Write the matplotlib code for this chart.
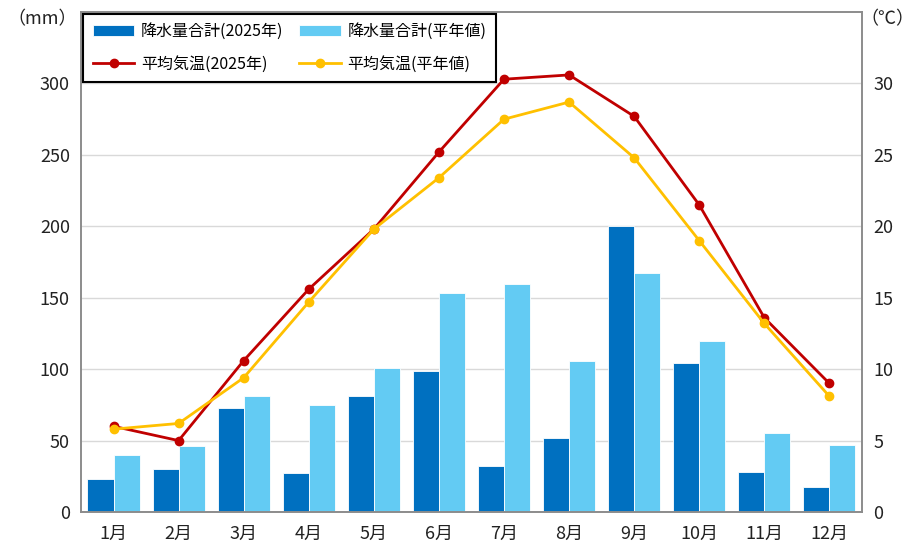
import numpy as np
import matplotlib
matplotlib.use("Agg")
import matplotlib.pyplot as plt

plt.rcParams["font.family"] = ["Noto Sans CJK JP", "DejaVu Sans"]

months = ["1月", "2月", "3月", "4月", "5月", "6月", "7月", "8月", "9月", "10月", "11月", "12月"]
rain_2025 = [23, 30, 73, 27, 81, 99, 32, 52, 200, 104, 28, 17.5]
rain_normal = [40, 46, 81, 75, 101, 153, 159.5, 106, 167.5, 120, 55, 47]
temp_2025 = [6.0, 5.0, 10.6, 15.6, 19.8, 25.2, 30.3, 30.6, 27.7, 21.5, 13.6, 9.0]
temp_normal = [5.8, 6.2, 9.4, 14.7, 19.8, 23.4, 27.5, 28.7, 24.8, 19.0, 13.2, 8.1]

c_dark = "#0070C0"
c_light = "#63CBF3"
c_red = "#C00000"
c_yellow = "#FFC000"
grid_c = "#D9D9D9"
spine_c = "#8C8C8C"
txt_c = "#222222"

fig = plt.figure(figsize=(9.15, 5.44), dpi=100)
ax = fig.add_axes([0.0885, 0.0588, 0.8535, 0.919])
ax2 = ax.twinx()

x = np.arange(len(months))
w = 0.4
b1 = ax.bar(x - w / 2, rain_2025, w, color=c_dark, edgecolor="white", linewidth=0.6,
            label="降水量合計(2025年)", zorder=2)
b2 = ax.bar(x + w / 2, rain_normal, w, color=c_light, edgecolor="white", linewidth=0.6,
            label="降水量合計(平年値)", zorder=2)

l1, = ax2.plot(x, temp_2025, color=c_red, marker="o", markersize=6, linewidth=2,
               label="平均気温(2025年)", zorder=3)
l2, = ax2.plot(x, temp_normal, color=c_yellow, marker="o", markersize=6, linewidth=2,
               label="平均気温(平年値)", zorder=3)

ax.set_xlim(-0.5, len(months) - 0.5)
ax.set_ylim(0, 350)
ax2.set_ylim(0, 35)
ax.set_yticks(np.arange(0, 301, 50))
ax2.set_yticks(np.arange(0, 31, 5))
ax.set_xticks(x)
ax.set_xticklabels(months)
ax.yaxis.grid(True, color=grid_c, linewidth=1, zorder=0)
ax.set_axisbelow(True)

for a in (ax, ax2):
    a.tick_params(length=0, labelsize=13, colors=txt_c, pad=8)
    for s in a.spines.values():
        s.set_color(spine_c)
        s.set_linewidth(1.2)
ax.tick_params(axis="x", pad=9)

fig.text(0.008, 0.965, "（mm）", fontsize=13, color=txt_c, va="center")
fig.text(0.999, 0.965, "（℃）", fontsize=13, color=txt_c, va="center", ha="right")

# row-wise order: bars on top row, lines on bottom row
handles = [b1, l1, b2, l2]
labels = [h.get_label() for h in handles]
leg = ax2.legend(handles, labels, ncol=2, loc="upper left",
                 bbox_to_anchor=(0.003, 0.997), borderaxespad=0, fontsize=11.5,
                 frameon=True, fancybox=False, borderpad=0.6, columnspacing=1.0,
                 handlelength=2.6, handletextpad=0.4, labelspacing=0.95)
leg.get_frame().set_edgecolor("black")
leg.get_frame().set_linewidth(1.5)
leg.get_frame().set_alpha(1)
leg.set_zorder(5)

fig.savefig("out.png", dpi=100)
